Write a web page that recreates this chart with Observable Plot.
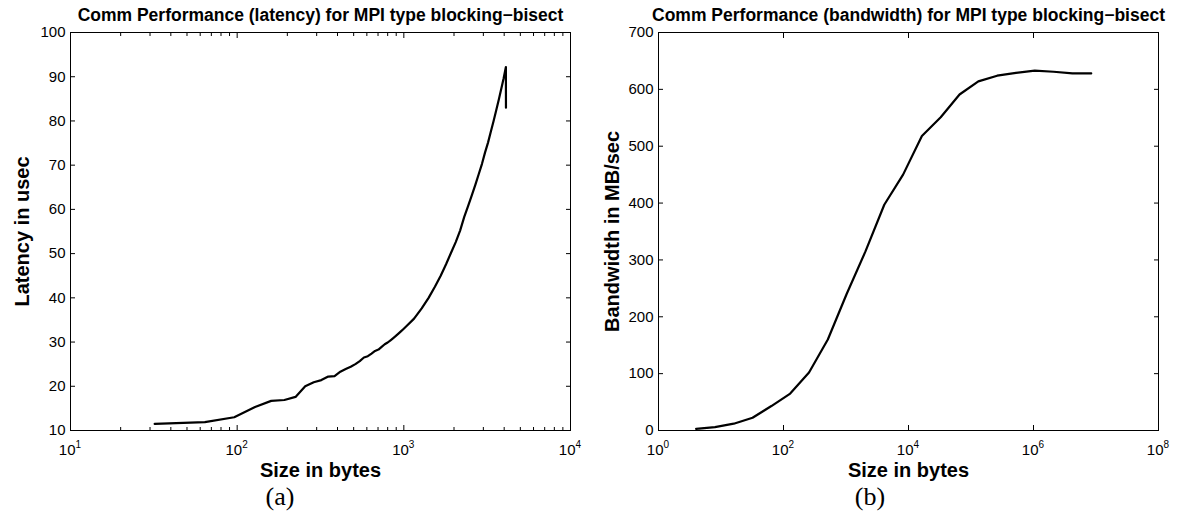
<!DOCTYPE html>
<html>
<head>
<meta charset="utf-8">
<script src="https://cdn.jsdelivr.net/npm/d3@7"></script>
<script src="https://cdn.jsdelivr.net/npm/@observablehq/plot@0.6"></script>
<style>
  html, body { margin: 0; padding: 0; background: #fff; }
  #figure { display: flex; width: 1183px; height: 516px; }
  .panel svg { display: block; }
  .caption {
    font-family: "Liberation Serif", "Times New Roman", serif;
    font-size: 26px; line-height: 26px; margin-top: 4px;
    text-align: center; color: #000;
  }
</style>
</head>
<body>
<div id="figure">
  <div class="panel" id="left"></div>
  <div class="panel" id="right"></div>
</div>
<script>
// Latency test: message size (bytes) and latency (usec)
const latencySizes = [
  32, 64, 96, 128, 160, 192, 224, 256, 288, 320, 352, 384, 416, 448, 480, 512,
  544, 576, 608, 640, 672, 704, 736, 768, 800, 832, 864, 896, 928, 960, 992, 1024,
  1152, 1280, 1408, 1536, 1664, 1792, 1920, 2048, 2176, 2304, 2432, 2560,
  2688, 2816, 2944, 3072, 3200, 3328, 3456, 3584, 3712, 3840, 3968, 4096, 4100
];
const latencyUsec = [
  11.5, 11.9, 13.0, 15.3, 16.7, 16.9, 17.6, 20.0, 20.9, 21.4, 22.2, 22.3, 23.3, 23.9, 24.4, 25.0,
  25.7, 26.5, 26.8, 27.4, 28.0, 28.3, 28.9, 29.5, 29.9, 30.4, 30.9, 31.4, 31.9, 32.4, 32.9, 33.4,
  35.3, 37.6, 40.0, 42.5, 45.0, 47.6, 50.2, 52.6, 55.2, 58.3, 60.8, 63.2,
  65.6, 68.0, 70.3, 72.9, 75.1, 77.6, 80.0, 82.4, 84.8, 87.2, 89.6, 92.2, 83.0
];

// Bandwidth test: message size (bytes) and bandwidth (MB/sec)
const bandwidthSizes = [
  4, 8, 16, 32, 64, 128, 256, 512, 1024, 2048, 4096, 8192, 16384, 32768,
  65536, 131072, 262144, 524288, 1048576, 2097152, 4194304, 8388608
];
const bandwidthMBs = [
  3, 6, 12, 22.5, 43, 65, 102, 160, 240, 315, 397, 450, 518, 551,
  591, 614, 624, 629, 633, 631, 628, 628
];

// Axis ticks
const latencyYTicks = [10, 20, 30, 40, 50, 60, 70, 80, 90, 100];
const bandwidthYTicks = [0, 100, 200, 300, 400, 500, 600, 700];
const latencyExponents = [1, 2, 3, 4];
const bandwidthExponents = [0, 2, 4, 6, 8];

const FONT = '"Liberation Sans", Arial, Helvetica, sans-serif';

function panel({
  width, marginLeft, marginRight, title, xDomain, yDomain, yTicks,
  exponents, minorTicks, yLabel, yLabelDx, rows, caption, captionPad
}) {
  const majors = exponents.map(e => 10 ** e);
  const plot = Plot.plot({
    width,
    height: 480,
    marginLeft,
    marginRight,
    marginTop: 32,
    marginBottom: 50,
    style: {fontFamily: FONT, fontSize: "15px", color: "#000", background: "#fff", overflow: "visible"},
    x: {type: "log", domain: xDomain},
    y: {domain: yDomain},
    marks: [
      Plot.frame({stroke: "#000", strokeWidth: 1}),
      // inward tick marks on all four sides of the box
      Plot.axisX(majors, {anchor: "bottom", tickSize: -5, fill: "none", label: null}),
      Plot.axisX(majors, {anchor: "top", tickSize: -5, fill: "none", label: null}),
      minorTicks.length ? Plot.axisX(minorTicks, {anchor: "bottom", tickSize: -3, fill: "none", label: null}) : null,
      minorTicks.length ? Plot.axisX(minorTicks, {anchor: "top", tickSize: -3, fill: "none", label: null}) : null,
      Plot.axisY(yTicks, {anchor: "left", tickSize: -5, fill: "none", label: null}),
      Plot.axisY(yTicks, {anchor: "right", tickSize: -5, fill: "none", label: null}),
      // y tick labels
      Plot.axisY(yTicks, {anchor: "left", tickSize: 0, tickPadding: 5, label: null, fontSize: 15}),
      // x tick labels as 10 with a raised exponent
      Plot.text(exponents, {
        x: e => 10 ** e, text: () => "10", frameAnchor: "bottom",
        textAnchor: "end", lineAnchor: "bottom", dx: 5, dy: 24, fontSize: 15
      }),
      Plot.text(exponents, {
        x: e => 10 ** e, text: e => String(e), frameAnchor: "bottom",
        textAnchor: "start", lineAnchor: "bottom", dx: 5, dy: 17, fontSize: 10
      }),
      // the measured curve
      Plot.line(rows, {x: "size", y: "value", stroke: "#000", strokeWidth: 2.2, strokeLinejoin: "round"}),
      // title and axis labels
      Plot.text([title], {
        frameAnchor: "top", lineAnchor: "bottom", dy: -12,
        fontWeight: "bold", fontSize: 17.5
      }),
      Plot.text(["Size in bytes"], {
        frameAnchor: "bottom", lineAnchor: "bottom", dy: 46,
        fontWeight: "bold", fontSize: 20
      }),
      Plot.text([yLabel], {
        frameAnchor: "left", textAnchor: "middle", rotate: -90, dx: yLabelDx,
        fontWeight: "bold", fontSize: 20
      })
    ]
  });
  const cap = document.createElement("div");
  cap.className = "caption";
  cap.style.paddingRight = captionPad + "px";
  cap.textContent = caption;
  return [plot, cap];
}

const latencyRows = latencySizes.map((s, i) => ({size: s, value: latencyUsec[i]}));
const bandwidthRows = bandwidthSizes.map((s, i) => ({size: s, value: bandwidthMBs[i]}));

const minorLatency = [];
for (const e of [1, 2, 3]) for (let k = 2; k <= 9; ++k) minorLatency.push(k * 10 ** e);

document.getElementById("left").append(...panel({
  width: 590, marginLeft: 70, marginRight: 20,
  title: "Comm Performance (latency) for MPI type blocking\u2212bisect",
  xDomain: [10, 10000], yDomain: [10, 100], yTicks: latencyYTicks,
  exponents: latencyExponents, minorTicks: minorLatency,
  yLabel: "Latency in usec", yLabelDx: -48,
  rows: latencyRows, caption: "(a)", captionPad: 30
}));

document.getElementById("right").append(...panel({
  width: 593, marginLeft: 68, marginRight: 25,
  title: "Comm Performance (bandwidth) for MPI type blocking\u2212bisect",
  xDomain: [1, 1e8], yDomain: [0, 700], yTicks: bandwidthYTicks,
  exponents: bandwidthExponents, minorTicks: [],
  yLabel: "Bandwidth in MB/sec", yLabelDx: -46,
  rows: bandwidthRows, caption: "(b)", captionPad: 33
}));
</script>
</body>
</html>
